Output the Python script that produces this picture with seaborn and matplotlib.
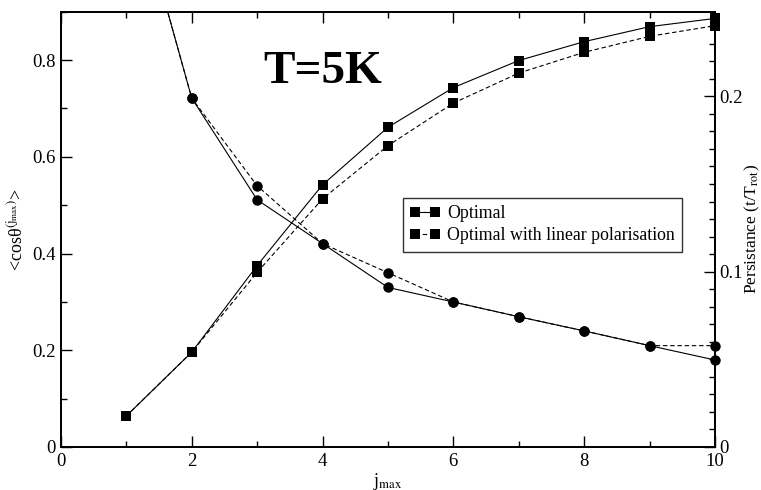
import matplotlib
matplotlib.use("Agg")
import matplotlib.pyplot as plt
import seaborn as sns
import pandas as pd
from matplotlib.ticker import MultipleLocator, FuncFormatter
from matplotlib.patches import Rectangle

# ---- data ----
j_sq = [1, 2, 3, 4, 5, 6, 7, 8, 9, 10]
cos_opt = [0.064, 0.196, 0.375, 0.542, 0.661, 0.743, 0.799, 0.838, 0.869, 0.886]
cos_lin = [0.064, 0.196, 0.361, 0.513, 0.623, 0.711, 0.773, 0.816, 0.849, 0.871]

j_ci = [1, 2, 3, 4, 5, 6, 7, 8, 9, 10]
pers_opt = [0.333, 0.199, 0.141, 0.116, 0.091, 0.0827, 0.0743, 0.0662, 0.0578, 0.0496]
pers_lin = [0.333, 0.199, 0.149, 0.116, 0.0994, 0.0827, 0.0743, 0.0662, 0.0578, 0.0578]

labels = ["Optimal", "Optimal with linear polarisation"]

sns.set_style("ticks")
plt.rcParams["font.family"] = ["Liberation Serif", "DejaVu Serif"]
plt.rcParams["mathtext.fontset"] = "stix"
plt.rcParams["text.color"] = "black"
plt.rcParams["axes.labelcolor"] = "black"
plt.rcParams["xtick.color"] = "black"
plt.rcParams["ytick.color"] = "black"

fig = plt.figure(figsize=(7.61, 4.90), dpi=100)
ax = fig.add_axes([0.080, 0.0878, 0.8596, 0.8884])
ax2 = ax.twinx()

sq = dict(color="black", marker="s", markersize=6.5, linewidth=0.8,
          markeredgewidth=0, markerfacecolor="black")
ci = dict(color="black", marker="o", markersize=7.5, linewidth=0.8,
          markeredgewidth=0, markerfacecolor="black")

df_sq = pd.DataFrame({"j": j_sq, "opt": cos_opt, "lin": cos_lin})
df_ci = pd.DataFrame({"j": j_ci, "opt": pers_opt, "lin": pers_lin})

sns.lineplot(data=df_sq, x="j", y="opt", ax=ax, linestyle="-", **sq)
sns.lineplot(data=df_sq, x="j", y="lin", ax=ax, linestyle=(0, (4, 2.5)), **sq)
sns.lineplot(data=df_ci, x="j", y="opt", ax=ax2, linestyle="-", **ci)
sns.lineplot(data=df_ci, x="j", y="lin", ax=ax2, linestyle=(0, (4, 2.5)), **ci)

lines = ax.get_lines()
for a in (ax, ax2):
    clip = Rectangle((-0.05, 0.0), 1.1, 1.0, transform=a.transAxes,
                     facecolor="none", edgecolor="none")
    for ln in a.get_lines():
        ln.set_clip_path(clip)

ax.set_xlim(0, 10)
ax.set_ylim(0, 0.90)
ax2.set_ylim(0, 0.2483)

ax.xaxis.set_major_locator(MultipleLocator(2))
ax.xaxis.set_minor_locator(MultipleLocator(1))
ax.yaxis.set_major_locator(MultipleLocator(0.2))
ax.yaxis.set_minor_locator(MultipleLocator(0.1))
ax2.yaxis.set_major_locator(MultipleLocator(0.1))
ax2.yaxis.set_minor_locator(MultipleLocator(0.01))

def fmt0(v, pos):
    if abs(v) < 1e-9:
        return "0"
    return f"{v:.1f}"

ax.yaxis.set_major_formatter(FuncFormatter(fmt0))
ax2.yaxis.set_major_formatter(FuncFormatter(fmt0))
ax.xaxis.set_major_formatter(FuncFormatter(lambda v, p: f"{int(round(v))}"))

ax.tick_params(axis="both", which="major", direction="in", length=8, width=1,
               labelsize=13.5, top=True, right=False, pad=4, colors="black")
ax.tick_params(axis="both", which="minor", direction="in", length=4.5, width=1,
               top=True, right=False)
ax2.tick_params(axis="y", which="major", direction="in", length=8, width=1,
                labelsize=13.5, pad=3, colors="black")
ax2.tick_params(axis="y", which="minor", direction="in", length=4.5, width=1)

for a in (ax, ax2):
    for s in a.spines.values():
        s.set_visible(True)
        s.set_linewidth(1.3)
        s.set_color("black")

ax.set_xlabel(r"j$_{\rm max}$", fontsize=13, labelpad=1)
ax.set_ylabel("<cosθ" + r"$^{(\mathrm{j}_{\rm max})}$" + ">", fontsize=13, labelpad=4)
ax2.set_ylabel(r"Persistance (t/T$_{\rm rot}$)", fontsize=12.5, labelpad=0)

ax.text(4.0, 0.776, "T=5K", fontsize=34, fontweight="bold", ha="center",
        va="center", color="black")

handles = [lines[0], lines[1]]
leg = ax.legend(handles, labels, loc="upper left", bbox_to_anchor=(0.523, 0.572),
                fontsize=12.8, numpoints=2, handlelength=1.7, handletextpad=0.4,
                borderpad=0.4, labelspacing=0.3, frameon=True, fancybox=False,
                borderaxespad=0)
leg.get_frame().set_edgecolor("black")
leg.get_frame().set_linewidth(1.0)
for t in leg.get_texts():
    t.set_color("black")

fig.savefig("out.png", dpi=100)
